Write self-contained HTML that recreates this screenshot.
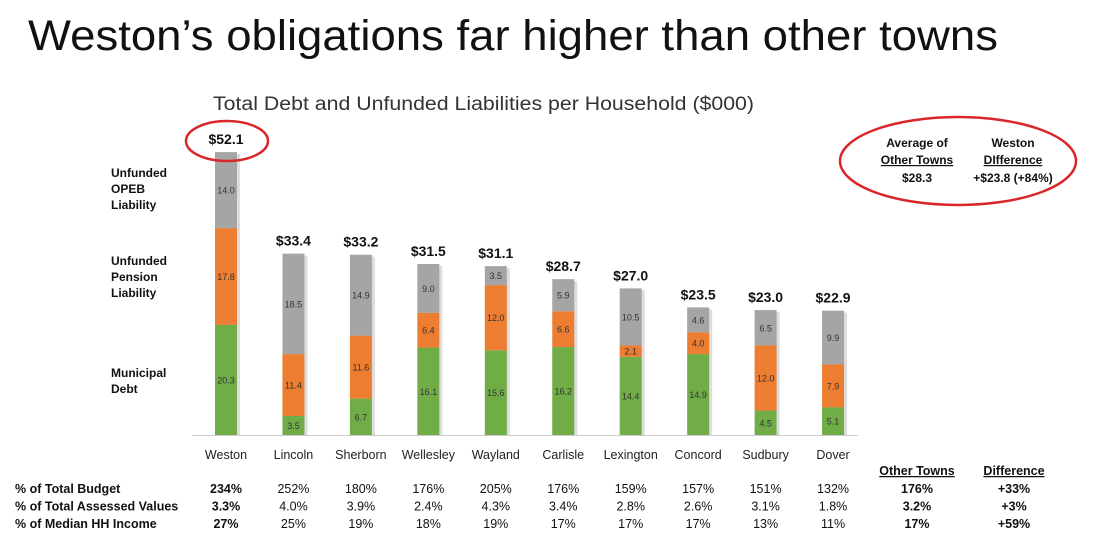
<!DOCTYPE html>
<html><head><meta charset="utf-8"><style>
body{margin:0;background:#fff;width:1100px;height:550px;overflow:hidden}
svg text{font-family:"Liberation Sans",sans-serif}
</style></head><body>
<svg id="c" width="1100" height="550" xmlns="http://www.w3.org/2000/svg">
<text x="28" y="50" font-size="43" fill="#111" textLength="970" lengthAdjust="spacingAndGlyphs">Weston’s obligations far higher than other towns</text>
<text x="213" y="110" font-size="19" fill="#333" textLength="541" lengthAdjust="spacingAndGlyphs">Total Debt and Unfunded Liabilities per Household ($000)</text>
<g font-size="12" font-weight="bold" fill="#111">
<text x="111" y="177">Unfunded</text><text x="111" y="193">OPEB</text><text x="111" y="209">Liability</text>
<text x="111" y="265">Unfunded</text><text x="111" y="281">Pension</text><text x="111" y="297">Liability</text>
<text x="111" y="377">Municipal</text><text x="111" y="393">Debt</text>
</g>
<line x1="192" y1="435.5" x2="858" y2="435.5" stroke="#ccc" stroke-width="1"/>
<g id="bars"></g>
<ellipse cx="227" cy="141" rx="41" ry="20" fill="none" stroke="#d9262a" stroke-width="2.5"/>
<ellipse cx="958" cy="161" rx="118" ry="44" fill="none" stroke="#d9262a" stroke-width="2.5"/>
<g font-size="12" font-weight="bold" fill="#111" text-anchor="middle">
<text x="917" y="147">Average of</text><text x="1013" y="147">Weston</text>
<text x="917" y="164" text-decoration="underline">Other Towns</text><text x="1013" y="164" text-decoration="underline">DIfference</text>
<text x="917" y="182">$28.3</text><text x="1013" y="182">+$23.8 (+84%)</text>
</g>
<g id="table" font-size="12.5" fill="#111"></g>
</svg>
<script>
const towns=["Weston","Lincoln","Sherborn","Wellesley","Wayland","Carlisle","Lexington","Concord","Sudbury","Dover"];
const debt=[20.3,3.5,6.7,16.1,15.6,16.2,14.4,14.9,4.5,5.1];
const pension=[17.8,11.4,11.6,6.4,12.0,6.6,2.1,4.0,12.0,7.9];
const opeb=[14.0,18.5,14.9,9.0,3.5,5.9,10.5,4.6,6.5,9.9];
const budget=["234%","252%","180%","176%","205%","176%","159%","157%","151%","132%"];
const assessed=["3.3%","4.0%","3.9%","2.4%","4.3%","3.4%","2.8%","2.6%","3.1%","1.8%"];
const income=["27%","25%","19%","18%","19%","17%","17%","17%","13%","11%"];
const otherAvg=["176%","3.2%","17%"];
const diff=["+33%","+3%","+59%"];
const rowLabels=["% of Total Budget","% of Total Assessed Values","% of Median HH Income"];
const NS="http://www.w3.org/2000/svg";
const base=435, k=5.43, bw=22;
const X=i=>226+i*67.45;
const Y=v=>base-v*k;
function mk(tag,attrs,parent){const e=document.createElementNS(NS,tag);for(const a in attrs)e.setAttribute(a,attrs[a]);parent.appendChild(e);return e;}
const g=document.getElementById('bars');
const cols=["#70AD47","#ED7D31","#A5A5A5"];
const names=["debt","pension","opeb"];
towns.forEach((t,i)=>{
  const vals=[debt[i],pension[i],opeb[i]];
  const tot=vals[0]+vals[1]+vals[2];
  const sh=mk('rect',{x:X(i)-bw/2+3,y:Y(tot)+2,width:bw,height:tot*k-2,fill:"#ddd"},g);
  
  
  let acc=0;
  vals.forEach((v,s)=>{
    const r=mk('rect',{x:X(i)-bw/2,y:Y(acc+v),width:bw,height:v*k,fill:cols[s]},g);
    
    
    const l=mk('text',{x:X(i),y:Y(acc+v/2)+3.5,'font-size':9,'text-anchor':'middle',fill:'#333'},g);
    
    
    l.textContent=v.toFixed(1);
    acc+=v;
  });
  const tl=mk('text',{x:X(i),y:Y(acc)-8,'font-size':14,'font-weight':'bold','text-anchor':'middle',fill:'#111'},g);
  
  
  tl.textContent='$'+acc.toFixed(1);
  const cl=mk('text',{x:X(i),y:459,'font-size':12.5,'text-anchor':'middle',fill:'#222'},g);
  
  
  cl.textContent=t;
});
const tb=document.getElementById('table');
const h1=mk('text',{x:917,y:475,'font-weight':'bold','text-anchor':'middle','text-decoration':'underline'},tb);


h1.textContent='Other Towns';
const h2=mk('text',{x:1014,y:475,'font-weight':'bold','text-anchor':'middle','text-decoration':'underline'},tb);


h2.textContent='Difference';
[budget,assessed,income].forEach((row,r)=>{
  const y=493+r*17.5;
  const rl=mk('text',{x:15,y:y,'font-weight':'bold'},tb);
  
  
  rl.textContent=rowLabels[r];
  row.forEach((v,i)=>{
    const c=mk('text',{x:X(i),y:y,'text-anchor':'middle','font-weight':i==0?'bold':'normal'},tb);
    
    
    c.textContent=v;
  });
  const o=mk('text',{x:917,y:y,'text-anchor':'middle','font-weight':'bold'},tb);
  
  
  o.textContent=otherAvg[r];
  const d=mk('text',{x:1014,y:y,'text-anchor':'middle','font-weight':'bold'},tb);
  
  
  d.textContent=diff[r];
});
</script>
</body></html>
